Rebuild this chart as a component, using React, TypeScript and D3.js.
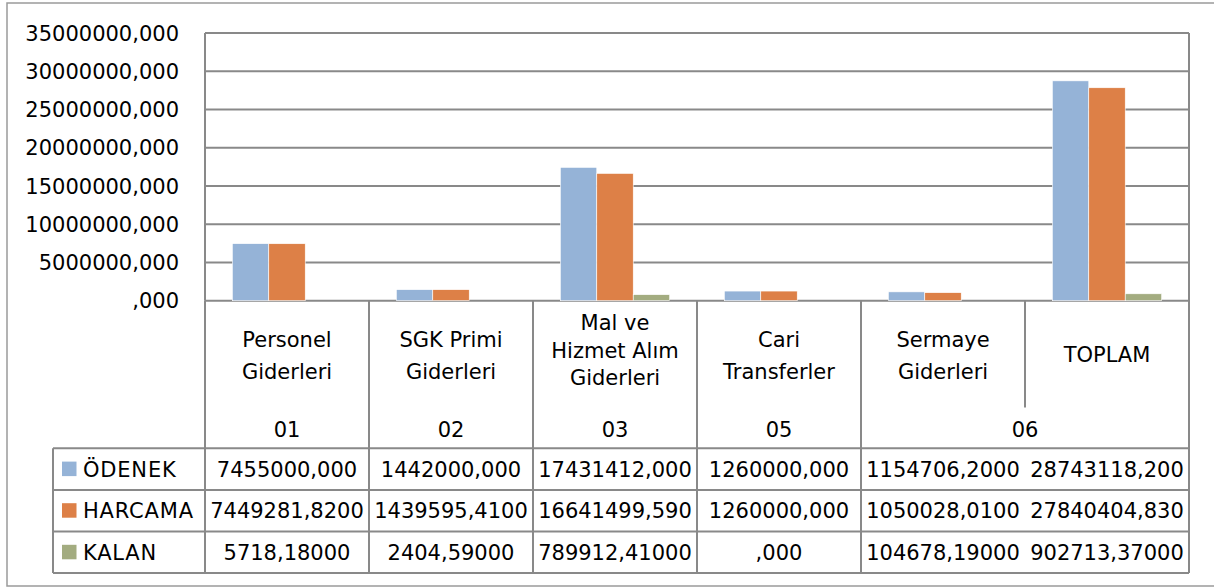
import { useMemo } from 'react'
import * as d3 from 'd3'

// Gider kalemleri (kategori başlıkları, satır satır)
const categoryLines: string[][] = [
  ['Personel', 'Giderleri'],
  ['SGK Primi', 'Giderleri'],
  ['Mal ve', 'Hizmet Alım', 'Giderleri'],
  ['Cari', 'Transferler'],
  ['Sermaye', 'Giderleri'],
  ['TOPLAM'],
]
const categoryCodes = ['01', '02', '03', '05', '06', '06']

const seriesNames = ['ÖDENEK', 'HARCAMA', 'KALAN']
const seriesColors = ['#95B3D7', '#DD8047', '#A3AC80']

// values as shown in the data table
const odenek = ['7455000,000', '1442000,000', '17431412,000', '1260000,000', '1154706,2000', '28743118,200']
const harcama = ['7449281,8200', '1439595,4100', '16641499,590', '1260000,000', '1050028,0100', '27840404,830']
const kalan = ['5718,18000', '2404,59000', '789912,41000', ',000', '104678,19000', '902713,37000']

const yTicks = [0, 5000000, 10000000, 15000000, 20000000, 25000000, 30000000, 35000000]

const parseTr = (s: string) => parseFloat(s.replace(',', '.')) || 0
const fmtTick = (v: number) => (v === 0 ? '' : String(v)) + ',000'

const FONT = '"DejaVu Sans", sans-serif'
const FS = 21
const GRID = '#898989'

export default function App() {
  const W = 1214
  const H = 587
  const plot = { left: 205, right: 1189, top: 33, bottom: 300.7 }
  const table = { legendLeft: 53, nameBottom: 407.5, headBottom: 448.3, rowH: 41.6 }

  const rows = [odenek, harcama, kalan]
  const cats = categoryLines.map(l => l.join(' '))

  const x = useMemo(() => d3.scaleBand<string>().domain(cats).range([plot.left, plot.right]).padding(0), [])
  const xs = useMemo(
    () => d3.scaleBand<string>().domain(seriesNames).range([0, x.step()]).paddingInner(0).paddingOuter(0.75),
    [x]
  )
  const y = useMemo(() => d3.scaleLinear().domain([0, 35000000]).range([plot.bottom, plot.top]), [])

  // merge consecutive identical codes (06 spans two columns)
  const codeGroups: { code: string; start: number; end: number }[] = []
  categoryCodes.forEach((c, i) => {
    const last = codeGroups[codeGroups.length - 1]
    if (last && last.code === c) last.end = i
    else codeGroups.push({ code: c, start: i, end: i })
  })

  const tableBottom = table.headBottom + table.rowH * rows.length

  return (
    <svg width={W} height={H} style={{ position: 'fixed', left: 0, top: 0, background: '#fff' }} fontFamily={FONT}>
      <rect x={0} y={0} width={W} height={H} fill="#fff" />
      {/* chart frame */}
      <rect x={7} y={3} width={W + 10} height={583} fill="none" stroke="#9a9a9a" strokeWidth={1.5} />

      {/* gridlines + y labels */}
      {yTicks.map(t => (
        <g key={t}>
          <line x1={plot.left} x2={plot.right} y1={y(t)} y2={y(t)} stroke={GRID} strokeWidth={2} />
          <text x={179} y={y(t) + 7.6} textAnchor="end" fontSize={FS} fill="#000">
            {fmtTick(t)}
          </text>
        </g>
      ))}
      <line x1={plot.left} x2={plot.left} y1={plot.top} y2={plot.bottom} stroke={GRID} strokeWidth={2} />

      {/* bars */}
      {cats.map((c, ci) => (
        <g key={c} transform={`translate(${x(c)},0)`}>
          {rows.map((r, si) => {
            const v = parseTr(r[ci])
            const h = plot.bottom - y(v)
            if (h < 1) return null
            return (
              <rect
                key={si}
                x={xs(seriesNames[si])}
                y={y(v)}
                width={xs.bandwidth()}
                height={h}
                fill={seriesColors[si]}
                stroke="#fff"
                strokeWidth={h > 3 ? 0.6 : 0}
              />
            )
          })}
        </g>
      ))}

      {/* data table: header */}
      {cats.map((c, ci) => {
        const cx = (x(c) as number) + x.bandwidth() / 2
        const lines = categoryLines[ci]
        const lh = lines.length === 3 ? 27.5 : 32.3
        const center = lines.length === 3 ? 350 : lines.length === 2 ? 355.3 : 354.2
        const first = center - ((lines.length - 1) * lh) / 2 + 7.6
        return (
          <text key={c} textAnchor="middle" fontSize={FS} fill="#000">
            {lines.map((l, li) => (
              <tspan key={li} x={cx} y={first + li * lh}>
                {l}
              </tspan>
            ))}
          </text>
        )
      })}
      {codeGroups.map(g => {
        const x0 = x(cats[g.start]) as number
        const x1 = (x(cats[g.end]) as number) + x.bandwidth()
        return (
          <text key={g.code} x={(x0 + x1) / 2} y={436.8} textAnchor="middle" fontSize={FS} fill="#000">
            {g.code}
          </text>
        )
      })}

      {/* table grid lines */}
      {cats.map((c, ci) => {
        const lx = x(c) as number
        const merged = ci > 0 && categoryCodes[ci] === categoryCodes[ci - 1]
        return (
          <line
            key={'v' + c}
            x1={lx}
            x2={lx}
            y1={plot.bottom}
            y2={merged ? table.nameBottom : tableBottom}
            stroke={GRID}
            strokeWidth={2}
          />
        )
      })}
      <line x1={plot.right} x2={plot.right} y1={plot.top} y2={tableBottom} stroke={GRID} strokeWidth={2} />
      <line x1={table.legendLeft} x2={table.legendLeft} y1={table.headBottom} y2={tableBottom} stroke={GRID} strokeWidth={2} />
      {d3.range(rows.length + 1).map(i => (
        <line
          key={'h' + i}
          x1={table.legendLeft}
          x2={plot.right}
          y1={table.headBottom + i * table.rowH}
          y2={table.headBottom + i * table.rowH}
          stroke={GRID}
          strokeWidth={2}
        />
      ))}

      {/* table rows */}
      {rows.map((r, si) => {
        const ry = table.headBottom + si * table.rowH
        const mid = ry + table.rowH / 2
        return (
          <g key={seriesNames[si]}>
            <rect x={62} y={mid - 7.5} width={14.5} height={14.5} fill={seriesColors[si]} />
            <text x={83} y={mid + 7.6} fontSize={FS} fill="#000" letterSpacing={0.8}>
              {seriesNames[si]}
            </text>
            {r.map((s, ci) => (
              <text
                key={ci}
                x={(x(cats[ci]) as number) + x.bandwidth() / 2}
                y={mid + 7.6}
                textAnchor="middle"
                fontSize={FS}
                fill="#000"
              >
                {s}
              </text>
            ))}
          </g>
        )
      })}
    </svg>
  )
}
